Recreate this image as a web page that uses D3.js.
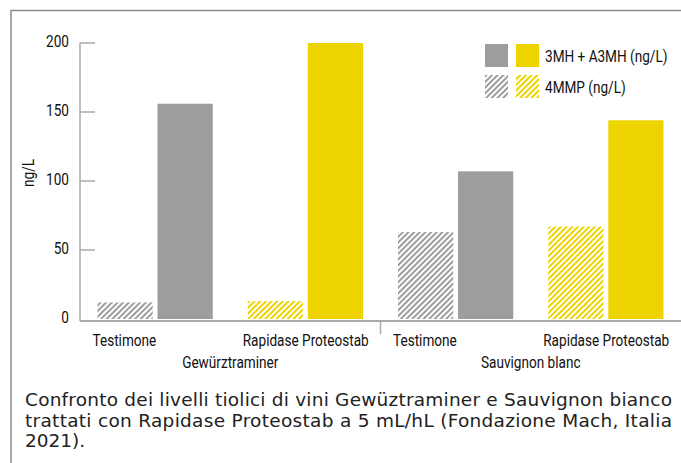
<!DOCTYPE html>
<meta charset="utf-8">
<title>Tioli Gewürztraminer e Sauvignon</title>
<style>
body {
  margin: 0;
  background: #fff;
}
text {
  font-family: Roboto, "Liberation Sans", sans-serif;
  font-size: 17px;
  fill: #111;
}
.caption {
  font-family: "DejaVu Sans", sans-serif;
  font-size: 18.5px;
  fill: #222;
}
</style>
<body>
<script src="https://cdnjs.cloudflare.com/ajax/libs/d3/7.8.5/d3.min.js"></script>
<script>
var varieties = ["Gewürztraminer", "Sauvignon blanc"],
    treatments = ["Testimone", "Rapidase Proteostab"],
    series = ["4MMP (ng/L)", "3MH + A3MH (ng/L)"],
    // values per variety, in treatment order
    mmp4 = [[12, 13], [63, 67]],
    mh3 = [[156, 200], [107, 144]],
    yTicks = [0, 50, 100, 150, 200],
    caption = [
      "Confronto dei livelli tiolici di vini Gewüztraminer e Sauvignon bianco",
      "trattati con Rapidase Proteostab a 5 mL/hL (Fondazione Mach, Italia",
      "2021)."
    ];

var w = 681,
    h = 463,
    squeeze = 0.8,
    colors = {"Testimone": "#9d9d9b", "Rapidase Proteostab": "#edd400"};

var svg = d3.select("body").append("svg")
    .attr("width", w)
    .attr("height", h);

// narrow text: the chart uses a condensed face
function place(x, y) {
  return "translate(" + x + "," + y + ")scale(" + squeeze + ",1)";
}

var defs = svg.append("defs");
treatments.forEach(function(t, i) {
  var p = defs.append("pattern")
      .attr("id", "hatch" + i)
      .attr("patternUnits", "userSpaceOnUse")
      .attr("width", 4)
      .attr("height", 4)
      .attr("patternTransform", "rotate(45)");
  p.append("rect").attr("width", 4).attr("height", 4).attr("fill", "#fff");
  p.append("rect").attr("width", 2).attr("height", 4).attr("fill", colors[t]);
});

// frame
svg.append("path")
    .attr("d", "M11," + h + "V10.5H" + w)
    .attr("fill", "none")
    .attr("stroke", "#8c8c8c")
    .attr("stroke-width", 1.5);

var x0 = d3.scaleBand().domain(varieties).range([80, 681]),
    x1 = d3.scaleBand().domain(treatments).range([0, x0.bandwidth()])
        .paddingInner(0.233).paddingOuter(0.1165),
    x2 = d3.scaleBand().domain(series).range([0, x1.bandwidth()]).paddingInner(0.08),
    y = d3.scaleLinear().domain([0, 200]).range([319, 43]);

// y axis
var yAxis = svg.append("g");
yAxis.append("line")
    .attr("x1", 80).attr("x2", 80)
    .attr("y1", y(200)).attr("y2", 321)
    .attr("stroke", "#aaa").attr("stroke-width", 1.5);
yAxis.selectAll(".tick")
    .data(yTicks.filter(function(d) { return d > 0; }))
  .enter().append("line")
    .attr("x1", 80).attr("x2", 95)
    .attr("y1", function(d) { return y(d); })
    .attr("y2", function(d) { return y(d); })
    .attr("stroke", "#aaa").attr("stroke-width", 1.5);
yAxis.selectAll("text")
    .data(yTicks)
  .enter().append("text")
    .attr("transform", function(d) { return place(69, y(d) - 2); })
    .attr("dy", "0.35em")
    .attr("text-anchor", "end")
    .text(function(d) { return d; });
svg.append("text")
    .attr("transform", "translate(34,173)rotate(-90)scale(" + squeeze + ",1)")
    .attr("text-anchor", "middle")
    .text("ng/L");

// bars
var rows = [];
varieties.forEach(function(v, i) {
  treatments.forEach(function(t, j) {
    rows.push({v: v, t: t, s: series[0], value: mmp4[i][j], hatch: j});
    rows.push({v: v, t: t, s: series[1], value: mh3[i][j], hatch: -1});
  });
});
svg.selectAll(".bar")
    .data(rows)
  .enter().append("rect")
    .attr("class", "bar")
    .attr("x", function(d) { return x0(d.v) + x1(d.t) + x2(d.s); })
    .attr("y", function(d) { return y(d.value); })
    .attr("width", x2.bandwidth())
    .attr("height", function(d) { return y(0) - y(d.value); })
    .attr("fill", function(d) { return d.hatch < 0 ? colors[d.t] : "url(#hatch" + d.hatch + ")"; });

// x axis
svg.append("line")
    .attr("x1", 80).attr("x2", w)
    .attr("y1", 321).attr("y2", 321)
    .attr("stroke", "#aaa").attr("stroke-width", 2);
svg.append("line")
    .attr("x1", x0(varieties[1])).attr("x2", x0(varieties[1]))
    .attr("y1", 321).attr("y2", 334)
    .attr("stroke", "#aaa").attr("stroke-width", 1.5);
varieties.forEach(function(v) {
  svg.selectAll(null)
      .data(treatments)
    .enter().append("text")
      .attr("transform", function(t) { return place(x0(v) + x1(t) - 5, 346); })
      .text(function(t) { return t; });
  svg.append("text")
      .attr("transform", place(x0(v) + x0.bandwidth() / 2, 368))
      .attr("text-anchor", "middle")
      .text(v);
});

// legend
var legend = svg.append("g");
[series[1], series[0]].forEach(function(s, i) {
  treatments.forEach(function(t, j) {
    legend.append("rect")
        .attr("x", 485 + j * 31)
        .attr("y", 44 + i * 31)
        .attr("width", 23)
        .attr("height", 23)
        .attr("fill", s === series[0] ? "url(#hatch" + j + ")" : colors[t]);
  });
  legend.append("text")
      .attr("transform", place(545, 56 + i * 31))
      .attr("dy", "0.35em")
      .text(s);
});

// caption
svg.selectAll(".caption")
    .data(caption)
  .enter().append("text")
    .attr("class", "caption")
    .attr("x", 25)
    .attr("y", function(d, i) { return 406 + i * 20.5; })
    .attr("textLength", function(d, i) { return i < 2 ? 647 : null; })
    .attr("lengthAdjust", "spacing")
    .text(function(d) { return d; });
</script>
